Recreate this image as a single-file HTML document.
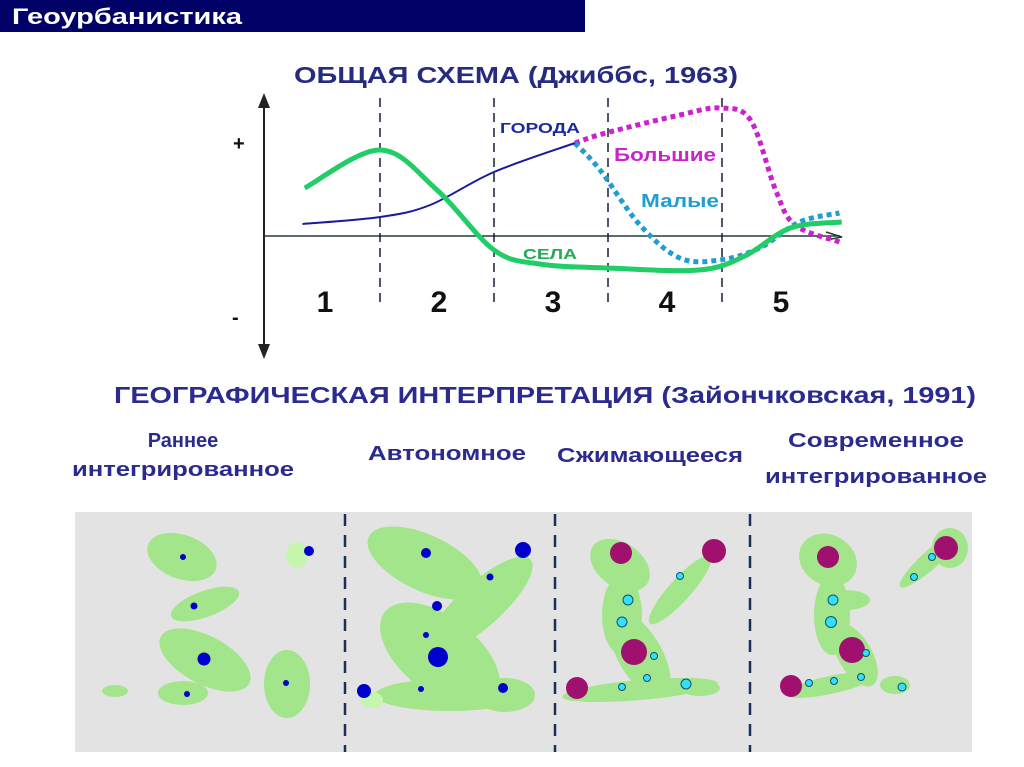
<!DOCTYPE html>
<html><head><meta charset="utf-8"><style>
html,body{margin:0;padding:0;background:#fff;width:1024px;height:767px;overflow:hidden}
svg{display:block;font-family:"Liberation Sans",sans-serif}
</style></head><body>
<svg width="1024" height="767" viewBox="0 0 1024 767">
<rect x="0" y="0" width="585" height="32" fill="#000066"/>
<text x="12" y="24" fill="#fff" font-weight="bold" font-size="22" textLength="230" lengthAdjust="spacingAndGlyphs">Геоурбанистика</text>
<text x="294" y="83" fill="#262b80" font-weight="bold" font-size="23" textLength="444" lengthAdjust="spacingAndGlyphs">ОБЩАЯ СХЕМА (Джиббс, 1963)</text>

<g id="chart"></g>

<text x="114" y="403" fill="#2b2b8f" font-weight="bold" font-size="23" textLength="862" lengthAdjust="spacingAndGlyphs">ГЕОГРАФИЧЕСКАЯ ИНТЕРПРЕТАЦИЯ  (Зайончковская, 1991)</text>
<g fill="#2b2b8f" font-weight="bold" font-size="20">
<text x="183" y="447" text-anchor="middle">Раннее</text>
<text x="183" y="476" text-anchor="middle" textLength="222" lengthAdjust="spacingAndGlyphs">интегрированное</text>
<text x="447" y="460" text-anchor="middle" textLength="158" lengthAdjust="spacingAndGlyphs">Автономное</text>
<text x="650" y="462" text-anchor="middle" textLength="186" lengthAdjust="spacingAndGlyphs">Сжимающееся</text>
<text x="876" y="447" text-anchor="middle" textLength="176" lengthAdjust="spacingAndGlyphs">Современное</text>
<text x="876" y="483" text-anchor="middle" textLength="222" lengthAdjust="spacingAndGlyphs">интегрированное</text>
</g>

<g>
<rect x="75" y="512" width="897" height="240" fill="#e3e3e3"/>
<g stroke="#1a2f5a" stroke-width="2.5" stroke-dasharray="12,9">
<line x1="345" y1="514" x2="345" y2="752"/><line x1="555" y1="514" x2="555" y2="752"/><line x1="750" y1="514" x2="750" y2="752"/>
</g>
<g fill="#a3e58a">
<ellipse cx="182" cy="557" rx="36" ry="22" transform="rotate(20 182 557)"/>
<ellipse cx="205" cy="604" rx="36" ry="13" transform="rotate(-20 205 604)"/>
<ellipse cx="205" cy="660" rx="50" ry="24" transform="rotate(28 205 660)"/>
<ellipse cx="183" cy="693" rx="25" ry="12"/>
<ellipse cx="115" cy="691" rx="13" ry="6"/>
<ellipse cx="287" cy="684" rx="23" ry="34"/>
<ellipse cx="297" cy="555" rx="11" ry="13" fill="#c4f7ac"/>
<ellipse cx="425" cy="563" rx="62" ry="28" transform="rotate(25 425 563)"/>
<ellipse cx="480" cy="605" rx="68" ry="22" transform="rotate(-42 480 605)"/>
<ellipse cx="440" cy="655" rx="70" ry="38" transform="rotate(38 440 655)"/>
<ellipse cx="450" cy="695" rx="75" ry="16"/>
<ellipse cx="505" cy="695" rx="30" ry="17"/>
<ellipse cx="372" cy="700" rx="11" ry="8" fill="#c4f7ac"/>
<ellipse cx="620" cy="565" rx="33" ry="22" transform="rotate(35 620 565)"/>
<ellipse cx="680" cy="590" rx="45" ry="11" transform="rotate(-48 680 590)"/>
<ellipse cx="622" cy="615" rx="20" ry="40"/>
<ellipse cx="640" cy="655" rx="48" ry="22" transform="rotate(60 640 655)"/>
<ellipse cx="640" cy="690" rx="78" ry="10" transform="rotate(-5 640 690)"/>
<ellipse cx="700" cy="688" rx="20" ry="8"/>
<ellipse cx="828" cy="560" rx="30" ry="25" transform="rotate(30 828 560)"/>
<ellipse cx="930" cy="560" rx="40" ry="9" transform="rotate(-42 930 560)"/>
<ellipse cx="950" cy="548" rx="18" ry="20"/>
<ellipse cx="832" cy="615" rx="18" ry="40"/>
<ellipse cx="845" cy="600" rx="25" ry="10"/>
<ellipse cx="855" cy="655" rx="35" ry="17" transform="rotate(60 855 655)"/>
<ellipse cx="830" cy="685" rx="45" ry="9" transform="rotate(-12 830 685)"/>
<ellipse cx="895" cy="685" rx="15" ry="9"/>
</g>
<g fill="#0000cc">
<circle cx="183" cy="557" r="3"/><circle cx="194" cy="606" r="3.5"/><circle cx="204" cy="659" r="6.5"/><circle cx="187" cy="694" r="3"/><circle cx="286" cy="683" r="3"/><circle cx="309" cy="551" r="5"/>
<circle cx="426" cy="553" r="5"/><circle cx="523" cy="550" r="8"/><circle cx="490" cy="577" r="3.5"/><circle cx="437" cy="606" r="5"/><circle cx="426" cy="635" r="3"/><circle cx="438" cy="657" r="10"/><circle cx="421" cy="689" r="3"/><circle cx="503" cy="688" r="5"/><circle cx="364" cy="691" r="7"/>
</g>
<g fill="#a0106e">
<circle cx="621" cy="553" r="11"/><circle cx="714" cy="551" r="12"/><circle cx="634" cy="652" r="13"/><circle cx="577" cy="688" r="11"/>
<circle cx="828" cy="557" r="11"/><circle cx="946" cy="548" r="12"/><circle cx="852" cy="650" r="13"/><circle cx="791" cy="686" r="11"/>
</g>
<g fill="#33e0ff" stroke="#105070" stroke-width="1">
<circle cx="680" cy="576" r="3.5"/><circle cx="628" cy="600" r="5"/><circle cx="622" cy="622" r="5"/><circle cx="654" cy="656" r="3.5"/><circle cx="647" cy="678" r="3.5"/><circle cx="622" cy="687" r="3.5"/><circle cx="686" cy="684" r="5"/>
<circle cx="932" cy="557" r="3.5"/><circle cx="914" cy="577" r="3.5"/><circle cx="833" cy="600" r="5"/><circle cx="831" cy="622" r="5.5"/><circle cx="866" cy="653" r="3.5"/><circle cx="861" cy="677" r="3.5"/><circle cx="834" cy="681" r="3.5"/><circle cx="809" cy="683" r="3.5"/><circle cx="902" cy="687" r="4"/>
</g>
</g>
</svg>
<script>
const periodLabels = ["1","2","3","4","5"];
const villageT = [0.34,1,1.5,2,2.4,3,3.8,4.2,4.6,5.05];
const villageV = [0.48,0.86,0.46,-0.14,-0.28,-0.32,-0.34,-0.2,0.08,0.14];
const citiesT = [0.32,1,1.44,2,2.71];
const citiesV = [0.12,0.19,0.31,0.64,0.93];
const largeT = [2.71,2.98,3.63,3.98,4.25,4.47,4.64,5.03];
const largeV = [0.93,1.03,1.21,1.28,1.16,0.46,0.11,-0.06];
const smallT = [2.71,2.93,3.28,3.63,3.98,4.33,4.68,5.03];
const smallV = [0.93,0.66,0.11,-0.22,-0.24,-0.12,0.14,0.23];
const boundaries = [1,2,3,4];

const NS="http://www.w3.org/2000/svg";
const g=document.getElementById('chart');
const xs=t=>266+114*t, ys=v=>236-100*v;
function mk(tag,at){const e=document.createElementNS(NS,tag);for(const k in at)e.setAttribute(k,at[k]);g.appendChild(e);return e;}
function path(T,V){const p=T.map((t,i)=>[xs(t),ys(V[i])]);let d=`M${p[0][0]},${p[0][1]}`;
 for(let i=0;i<p.length-1;i++){const a=p[i-1]||p[i],b=p[i],c=p[i+1],e=p[i+2]||c;
 d+=` C${b[0]+(c[0]-a[0])/6},${b[1]+(c[1]-a[1])/6} ${c[0]-(e[0]-b[0])/6},${c[1]-(e[1]-b[1])/6} ${c[0]},${c[1]}`;}return d;}
let e;
e=mk('line',{x1:264,y1:100,x2:264,y2:352,stroke:'#222','stroke-width':2});

e=mk('path',{d:'M258,108 L264,93 L270,108 Z M258,344 L264,359 L270,344 Z',fill:'#222'});

e=mk('line',{x1:264,y1:236,x2:840,y2:236,stroke:'#2a3a3a','stroke-width':1.5});

e=mk('path',{d:'M826,232 L842,237 L826,240',fill:'none',stroke:'#2a3a3a','stroke-width':1.5});

boundaries.forEach(b=>{e=mk('line',{x1:xs(b),y1:98,x2:xs(b),y2:305,stroke:'#1a1a3a','stroke-width':1.5,'stroke-dasharray':'9,6'});
 });
periodLabels.forEach((l,i)=>{e=mk('text',{x:xs(i+0.5)+2,y:312,'text-anchor':'middle','font-size':30,'font-weight':'bold',fill:'#111'});e.textContent=l;
 });
e=mk('text',{x:233,y:150,'font-size':20,'font-weight':'bold',fill:'#111'});e.textContent='+';

e=mk('text',{x:232,y:324,'font-size':20,'font-weight':'bold',fill:'#111'});e.textContent='-';

e=mk('path',{d:path(largeT,largeV),fill:'none',stroke:'#cc22cc','stroke-width':5,'stroke-dasharray':'5,4'});

e=mk('path',{d:path(smallT,smallV),fill:'none',stroke:'#1f9fcf','stroke-width':5,'stroke-dasharray':'5,4'});

e=mk('path',{d:path(citiesT,citiesV),fill:'none',stroke:'#1a1aa0','stroke-width':2});

e=mk('path',{d:path(villageT,villageV),fill:'none',stroke:'#22cc66','stroke-width':5});

[['ГОРОДА',500,133,15,'#1a2aa0',80,'cities-label'],['Большие',614,161,18,'#cc22cc',102,'large-label'],['Малые',641,207,18,'#1f9fcf',78,'small-label'],['СЕЛА',523,259,15,'#22aa55',54,'villages-label']].forEach(a=>{
 e=mk('text',{x:a[1],y:a[2],'font-size':a[3],'font-weight':'bold',fill:a[4],textLength:a[5],lengthAdjust:'spacingAndGlyphs'});e.textContent=a[0];
 });
</script>
</body></html>
